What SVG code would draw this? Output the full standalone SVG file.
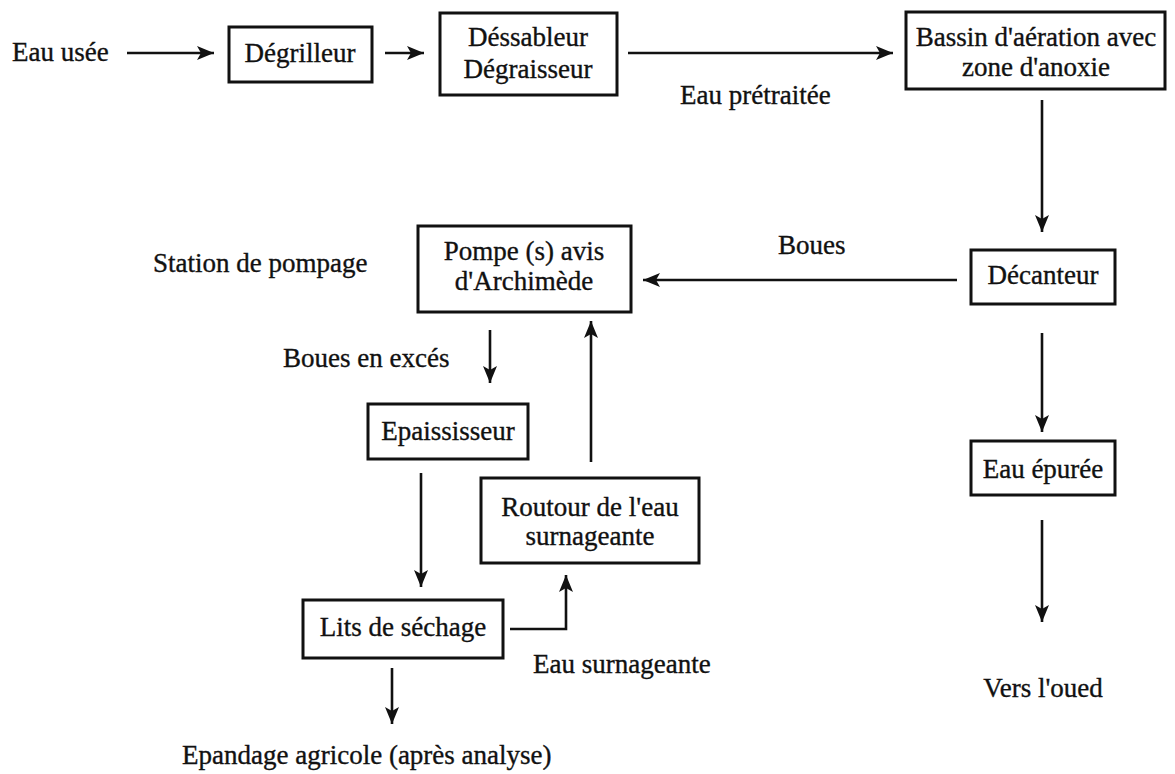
<svg xmlns="http://www.w3.org/2000/svg" width="1175" height="774" viewBox="0 0 1175 774">
<defs>
<style>
text{font-family:"Liberation Serif","Times New Roman",serif;font-size:27px;fill:#111;stroke:#111;stroke-width:0.35;}
.c{text-anchor:middle;}
.box{fill:#fff;stroke:#111;stroke-width:3;}
.ln{fill:none;stroke:#111;stroke-width:2.6;marker-end:url(#ah);}
</style>
<marker id="ah" markerUnits="userSpaceOnUse" markerWidth="18" markerHeight="16" refX="17" refY="8" orient="auto">
<path d="M0,1 L17,8 L0,15 L4,8 Z" fill="#111"/>
</marker>
</defs>
<rect width="1175" height="774" fill="#fff"/>
<g id="connectors">
<line class="ln" x1="127" y1="53" x2="214" y2="53"/>
<line class="ln" x1="385" y1="53" x2="424" y2="53"/>
<line class="ln" x1="628" y1="53" x2="893" y2="53"/>
<line class="ln" x1="1042" y1="100" x2="1042" y2="232"/>
<line class="ln" x1="957" y1="280" x2="643" y2="280"/>
<line class="ln" x1="490" y1="330" x2="490" y2="383"/>
<line class="ln" x1="591" y1="462" x2="591" y2="321"/>
<line class="ln" x1="421" y1="473" x2="421" y2="587"/>
<path class="ln" d="M510,629 H566 V575"/>
<line class="ln" x1="392" y1="668" x2="392" y2="724"/>
<line class="ln" x1="1042" y1="333" x2="1042" y2="432"/>
<line class="ln" x1="1042" y1="520" x2="1042" y2="622"/>
</g>
<g id="labels">
<text x="12" y="61">Eau usée</text>
<text x="680" y="104">Eau prétraitée</text>
<text x="778" y="254">Boues</text>
<text x="153" y="272">Station de pompage</text>
<text x="283" y="367">Boues en excés</text>
<text x="533" y="673">Eau surnageante</text>
<text x="182" y="764">Epandage agricole (après analyse)</text>
<text class="c" x="1043" y="697">Vers l'oued</text>
</g>
<g id="degrilleur"><rect class="box" x="229" y="27" width="143" height="55"/><text class="c" x="300" y="62">Dégrilleur</text></g>
<g id="dessableur"><rect class="box" x="440" y="13" width="177" height="82"/><text class="c" x="528" y="46">Déssableur</text><text class="c" x="528" y="78">Dégraisseur</text></g>
<g id="bassin"><rect class="box" x="906" y="12" width="259" height="77"/><text class="c" x="1036" y="46">Bassin d'aération avec</text><text class="c" x="1036" y="76">zone d'anoxie</text></g>
<g id="decanteur"><rect class="box" x="971" y="250" width="144" height="54"/><text class="c" x="1043" y="284">Décanteur</text></g>
<g id="pompe"><rect class="box" x="418" y="226" width="213" height="86"/><text class="c" x="524" y="260">Pompe (s) avis</text><text class="c" x="524" y="290">d'Archimède</text></g>
<g id="epaississeur"><rect class="box" x="368" y="404" width="160" height="55"/><text class="c" x="448" y="440">Epaississeur</text></g>
<g id="routour"><rect class="box" x="481" y="478" width="218" height="85"/><text class="c" x="590" y="516">Routour de l'eau</text><text class="c" x="590" y="545">surnageante</text></g>
<g id="lits"><rect class="box" x="303" y="600" width="200" height="58"/><text class="c" x="403" y="636">Lits de séchage</text></g>
<g id="eau-epuree"><rect class="box" x="971" y="441" width="144" height="54"/><text class="c" x="1043" y="478">Eau épurée</text></g>
</svg>
